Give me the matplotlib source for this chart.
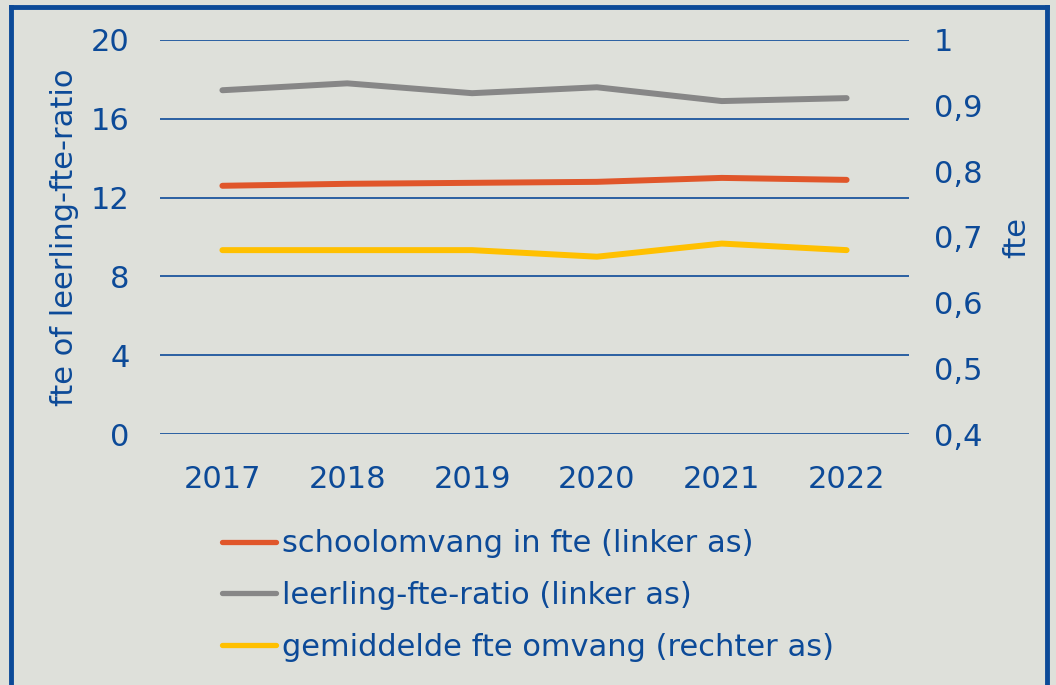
import matplotlib
matplotlib.use('Agg')
import matplotlib.pyplot as plt

# data
years = ['2017', '2018', '2019', '2020', '2021', '2022']
schoolomvang = [12.6, 12.7, 12.75, 12.8, 13.0, 12.9]
ratio = [17.45, 17.8, 17.3, 17.6, 16.9, 17.05]
gem_fte = [0.68, 0.68, 0.68, 0.67, 0.69, 0.68]

left_ticks = [0, 4, 8, 12, 16, 20]
right_ticks = [0.4, 0.5, 0.6, 0.7, 0.8, 0.9, 1.0]
right_labels = ['0,4', '0,5', '0,6', '0,7', '0,8', '0,9', '1']

labels = ['schoolomvang in fte (linker as)',
          'leerling-fte-ratio (linker as)',
          'gemiddelde fte omvang (rechter as)']

bg = '#dee0da'
blue = '#0c4a98'
orange = '#e0562a'
grey = '#878787'
yellow = '#ffc000'

plt.rcParams['font.family'] = ['DejaVu Sans']

fig = plt.figure(figsize=(10.56, 6.85), dpi=100)
fig.patch.set_facecolor(bg)

# dark blue frame (bottom edge cut off in the reference)
fig.add_artist(plt.Line2D([11 / 1056, 11 / 1056], [0, 1 - 7 / 685],
                          transform=fig.transFigure, color=blue, lw=3.5))
fig.add_artist(plt.Line2D([11 / 1056, 1047 / 1056], [1 - 7 / 685, 1 - 7 / 685],
                          transform=fig.transFigure, color=blue, lw=3.5))
fig.add_artist(plt.Line2D([1047 / 1056, 1047 / 1056], [0, 1 - 7 / 685],
                          transform=fig.transFigure, color=blue, lw=3.5))

ax = fig.add_axes([160 / 1056, 1 - 434 / 685, 749 / 1056, 394 / 685])
ax.set_facecolor('none')
x = list(range(len(years)))

l1, = ax.plot(x, schoolomvang, color=orange, lw=4.3, solid_capstyle='round', zorder=3)
l2, = ax.plot(x, ratio, color=grey, lw=4.3, solid_capstyle='round', zorder=3)
ax.set_ylim(0, 20)
ax.set_xlim(-0.5, 5.5)
ax.set_yticks(left_ticks)
ax.set_xticks(x)
ax.set_xticklabels(years)
ax.grid(axis='y', color=blue, lw=1.2)
ax.set_axisbelow(True)
for s in ax.spines.values():
    s.set_visible(False)
ax.tick_params(axis='both', length=0, colors=blue, labelsize=22)
ax.tick_params(axis='y', pad=22)
ax.tick_params(axis='x', pad=22)
ax.set_ylabel('fte of leerling-fte-ratio', color=blue, fontsize=22)
ax.yaxis.set_label_coords(-0.108, 0.5)

ax2 = ax.twinx()
l3, = ax2.plot(x, gem_fte, color=yellow, lw=4.3, solid_capstyle='round', zorder=3)
ax2.set_ylim(0.4, 1.0)
ax2.set_yticks(right_ticks)
ax2.set_yticklabels(right_labels)
for s in ax2.spines.values():
    s.set_visible(False)
ax2.tick_params(axis='y', length=0, colors=blue, labelsize=22, pad=18)
ax2.set_ylabel('fte', color=blue, fontsize=22)
ax2.yaxis.set_label_coords(1.125, 0.5)

leg = fig.legend([l1, l2, l3], labels, loc='upper left',
                 bbox_to_anchor=(210 / 1056, 1 - 517 / 685),
                 frameon=False, fontsize=22, handlelength=1.75,
                 handletextpad=0.22, labelspacing=0.75, borderaxespad=0)
for t in leg.get_texts():
    t.set_color(blue)
for h in leg.get_lines():
    h.set_linewidth(3.8)

fig.savefig('out.png', dpi=100, facecolor=bg)
